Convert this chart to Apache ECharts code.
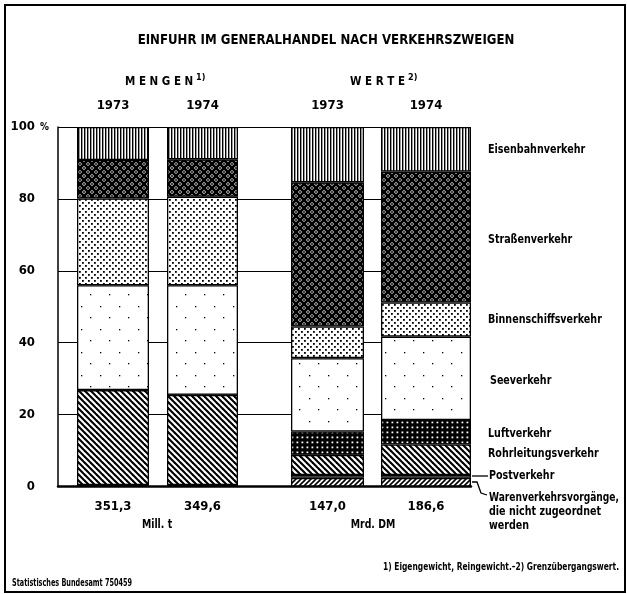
<!DOCTYPE html>
<html>
<head>
<meta charset="utf-8">
<script src="https://cdn.jsdelivr.net/npm/echarts@6/dist/echarts.min.js"></script>
<style>
html,body{margin:0;padding:0;background:#fff}
#chart{width:627px;height:594px}
</style>
</head>
<body>
<div id="chart"></div>
<script>
// Balken: Mengen 1973, Mengen 1974, Werte 1973, Werte 1974
const barYears = ['1973', '1974', '1973', '1974']
const barTotals = ['351,3', '349,6', '147,0', '186,6']

// Anteile in % (von unten nach oben gestapelt)
const waren       = [0.3, 0.3, 2.4, 2.4]
const post        = [0.1, 0.1, 0.8, 0.8]
const rohrleitung = [26.4, 25.1, 5.6, 8.5]
const luft        = [0, 0, 6.5, 6.8]
const see         = [29.2, 30.5, 20.4, 23.2]
const binnen      = [24.1, 24.6, 8.8, 9.5]
const strasse     = [10.7, 10.4, 40.1, 36.4]
const eisenbahn   = [9.2, 9.0, 15.4, 12.4]

const FONT = "'DejaVu Sans Condensed',sans-serif"
const plotTop = 127, plotBottom = 107.5
const barBoxes = [[77, 72], [167, 71], [291, 73], [381, 90]] // left, width

// Muster als Canvas
function pattern(w, h, draw) {
  const c = document.createElement('canvas')
  c.width = w; c.height = h
  const ctx = c.getContext('2d')
  ctx.fillStyle = '#fff'
  ctx.fillRect(0, 0, w, h)
  ctx.fillStyle = '#000'
  ctx.strokeStyle = '#000'
  draw(ctx, w, h)
  return {image: c, repeat: 'repeat'}
}

const pVertical = pattern(3, 3, ctx => ctx.fillRect(0, 0, 1.4, 3))
const pCross = pattern(8, 8, ctx => {
  ctx.lineWidth = 2.7
  for (let k = -1; k <= 1; k++) {
    ctx.beginPath(); ctx.moveTo(k * 8 - 2, -2); ctx.lineTo(k * 8 + 10, 10); ctx.stroke()
    ctx.beginPath(); ctx.moveTo(k * 8 - 2, 10); ctx.lineTo(k * 8 + 10, -2); ctx.stroke()
  }
  ;[[4, 0], [0, 4], [8, 4], [4, 8]].forEach(([x, y]) => {
    ctx.beginPath(); ctx.arc(x, y, 1, 0, Math.PI * 2); ctx.fill()
  })
})
const pDots = pattern(6, 6, ctx => {
  ctx.fillRect(1, 1, 1.8, 1.8)
  ctx.fillRect(4, 4, 1.8, 1.8)
})
const pSparse = pattern(19, 23, ctx => {
  ctx.fillRect(5, 7, 1.3, 1.3)
  ctx.fillRect(14, 18, 1.3, 1.3)
})
const pDark = pattern(5, 5, ctx => {
  ctx.fillRect(0, 0, 5, 5)
  ctx.fillStyle = '#fff'
  ctx.fillRect(1.5, 1.5, 1.8, 1.8)
})
const pBack = pattern(6, 6, ctx => {
  ctx.lineWidth = 2.1
  for (let k = -1; k <= 1; k++) {
    ctx.beginPath(); ctx.moveTo(k * 6 - 1, -1); ctx.lineTo(k * 6 + 7, 7); ctx.stroke()
  }
})
const pFwd = pattern(5, 5, ctx => {
  ctx.lineWidth = 1.6
  for (let k = -1; k <= 1; k++) {
    ctx.beginPath(); ctx.moveTo(k * 5 - 1, 6); ctx.lineTo(k * 5 + 6, -1); ctx.stroke()
  }
})

const segments = [
  {name: 'Warenverkehrsvorgänge', data: waren, color: pFwd},
  {name: 'Postverkehr', data: post, color: '#fff'},
  {name: 'Rohrleitungsverkehr', data: rohrleitung, color: pBack},
  {name: 'Luftverkehr', data: luft, color: pDark},
  {name: 'Seeverkehr', data: see, color: pSparse},
  {name: 'Binnenschiffsverkehr', data: binnen, color: pDots},
  {name: 'Straßenverkehr', data: strasse, color: pCross},
  {name: 'Eisenbahnverkehr', data: eisenbahn, color: pVertical}
]

const chart = echarts.init(document.getElementById('chart'))

const grid = [{left: 58, right: 156, top: plotTop, bottom: plotBottom}]
const xAxis = [{
  gridIndex: 0, type: 'value', min: 0, max: 1, position: 'bottom',
  axisLine: {show: true, lineStyle: {color: '#000', width: 2.5}},
  axisTick: {show: false}, axisLabel: {show: false}, splitLine: {show: false}
}]
const yAxis = [{
  gridIndex: 0, type: 'value', min: 0, max: 100, interval: 20,
  axisLine: {show: true, lineStyle: {color: '#000', width: 1.5}},
  axisTick: {show: false},
  splitLine: {show: true, lineStyle: {color: '#000', width: 1.2}},
  axisLabel: {color: '#000', fontFamily: FONT, fontWeight: 'bold', fontSize: 13, margin: 23}
}]
const series = []

barBoxes.forEach(([left, width], i) => {
  grid.push({left: left, width: width, top: plotTop, bottom: plotBottom})
  xAxis.push({
    gridIndex: i + 1, type: 'category', position: 'top', data: [barYears[i]],
    axisLine: {show: false}, axisTick: {show: false},
    axisLabel: {color: '#000', fontFamily: FONT, fontWeight: 'bold', fontSize: 13, margin: 15}
  })
  xAxis.push({
    gridIndex: i + 1, type: 'category', position: 'bottom', data: [barTotals[i]],
    axisLine: {show: false}, axisTick: {show: false},
    axisLabel: {color: '#000', fontFamily: FONT, fontWeight: 'bold', fontSize: 13, margin: 14}
  })
  yAxis.push({gridIndex: i + 1, type: 'value', min: 0, max: 100, show: false})
  segments.forEach(seg => {
    series.push({
      type: 'bar', name: seg.name, stack: 'bar' + i,
      xAxisIndex: 1 + 2 * i, yAxisIndex: 1 + i,
      barWidth: '100%',
      data: [seg.data[i]],
      itemStyle: {color: seg.color, borderColor: '#000', borderWidth: 1.3},
      emphasis: {disabled: true},
      silent: true
    })
  })
})

// Text, horizontal gestaucht wie im Original
const txt = (x, y, text, font, sx, align) => ({
  type: 'text', x: x, y: y, scaleX: sx || 1,
  style: {text: text, fill: '#000', font: font + ' ' + FONT,
    textAlign: align || 'left', textVerticalAlign: 'middle'}
})
const label = (x, y, text, sx) => txt(x, y, text, '600 12.5px', sx || 0.85)
const graphic = [
  {type: 'rect', shape: {x: 5, y: 5, width: 620, height: 587}, style: {fill: 'none', stroke: '#000', lineWidth: 2}},
  txt(326, 40, 'EINFUHR IM GENERALHANDEL NACH VERKEHRSZWEIGEN', 'bold 13.5px', 0.97, 'center'),
  txt(125, 82, 'M E N G E N', 'bold 11.5px'),
  txt(196, 78, '1)', 'bold 9px'),
  txt(350, 82, 'W E R T E', 'bold 11.5px'),
  txt(408, 78, '2)', 'bold 9px'),
  txt(40, 127, '%', 'bold 11px', 0.9),
  label(488, 150, 'Eisenbahnverkehr'),
  label(488, 240, 'Straßenverkehr'),
  label(488, 320, 'Binnenschiffsverkehr'),
  label(490, 381, 'Seeverkehr'),
  label(488, 434, 'Luftverkehr'),
  label(488, 454, 'Rohrleitungsverkehr'),
  label(489, 476, 'Postverkehr'),
  label(489, 498, 'Warenverkehrsvorgänge,', 0.81),
  label(489, 512, 'die nicht zugeordnet'),
  label(489, 526, 'werden'),
  {type: 'polyline', shape: {points: [[472, 476], [488, 476]]}, style: {stroke: '#000', lineWidth: 1.3, fill: 'none'}},
  {type: 'polyline', shape: {points: [[472, 482], [477, 482], [481, 493], [487, 495]]}, style: {stroke: '#000', lineWidth: 1.3, fill: 'none'}},
  txt(157, 525, 'Mill. t', '600 13px', 0.8, 'center'),
  txt(373, 525, 'Mrd. DM', '600 13px', 0.8, 'center'),
  txt(12, 583, 'Statistisches Bundesamt 750459', '600 10px', 0.72),
  txt(619, 567, '1) Eigengewicht, Reingewicht.–2) Grenzübergangswert.', '600 11px', 0.76, 'right')
]

chart.setOption({
  animation: false,
  grid: grid,
  xAxis: xAxis,
  yAxis: yAxis,
  series: series,
  graphic: graphic
})
</script>
</body>
</html>
